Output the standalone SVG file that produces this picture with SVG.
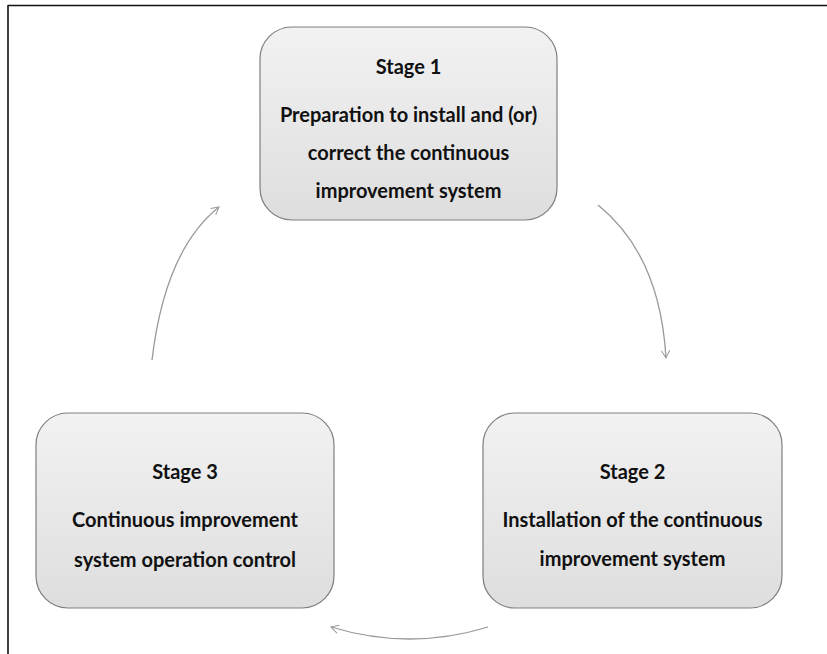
<svg xmlns="http://www.w3.org/2000/svg" width="827" height="654" viewBox="0 0 827 654">
<defs>
<linearGradient id="boxfill" x1="0" y1="0" x2="0" y2="1">
<stop offset="0" stop-color="#f2f2f2"/>
<stop offset="1" stop-color="#dedede"/>
</linearGradient>
<marker id="arr" viewBox="0 0 12 12" refX="10" refY="6" markerWidth="10" markerHeight="10" markerUnits="userSpaceOnUse" orient="auto">
<path d="M1,1 L10,6 L1,11" fill="none" stroke="#999" stroke-width="1.2"/>
</marker>
</defs>
<style>
.box{fill:url(#boxfill);stroke:#7f7f7f;stroke-width:1.2}
.t{font-family:Lato,"Liberation Sans",sans-serif;font-weight:bold;font-size:20px;fill:#111;text-anchor:middle}
.c{fill:none;stroke:#999;stroke-width:1.3}
</style>
<rect width="827" height="654" fill="#fff"/>
<g id="frame">
<line x1="8" y1="5.5" x2="827" y2="5.5" stroke="#111" stroke-width="1.6"/>
<line x1="8" y1="5" x2="8" y2="654" stroke="#111" stroke-width="1.6"/>
</g>
<g id="stage1">
<rect class="box" x="260" y="27" width="297" height="193" rx="32" ry="32"/>
<text class="t" x="408.5" y="74">Stage 1</text>
<text class="t" x="408.5" y="122">Preparation to install and (or)</text>
<text class="t" x="408.5" y="160">correct the continuous</text>
<text class="t" x="408.5" y="198">improvement system</text>
</g>
<g id="stage2">
<rect class="box" x="483" y="413" width="299" height="195" rx="32" ry="32"/>
<text class="t" x="632.5" y="479">Stage 2</text>
<text class="t" x="632.5" y="527">Installation of the continuous</text>
<text class="t" x="632.5" y="566">improvement system</text>
</g>
<g id="stage3">
<rect class="box" x="36" y="413" width="298" height="195" rx="32" ry="32"/>
<text class="t" x="185" y="479">Stage 3</text>
<text class="t" x="185" y="527">Continuous improvement</text>
<text class="t" x="185" y="567">system operation control</text>
</g>
<g id="connectors">
<path class="c" d="M598,205 Q660,255 666,358" marker-end="url(#arr)"/>
<path class="c" d="M488,627 Q410,651 331,627" marker-end="url(#arr)"/>
<path class="c" d="M152,360 Q165,250 219,207" marker-end="url(#arr)"/>
</g>
</svg>
